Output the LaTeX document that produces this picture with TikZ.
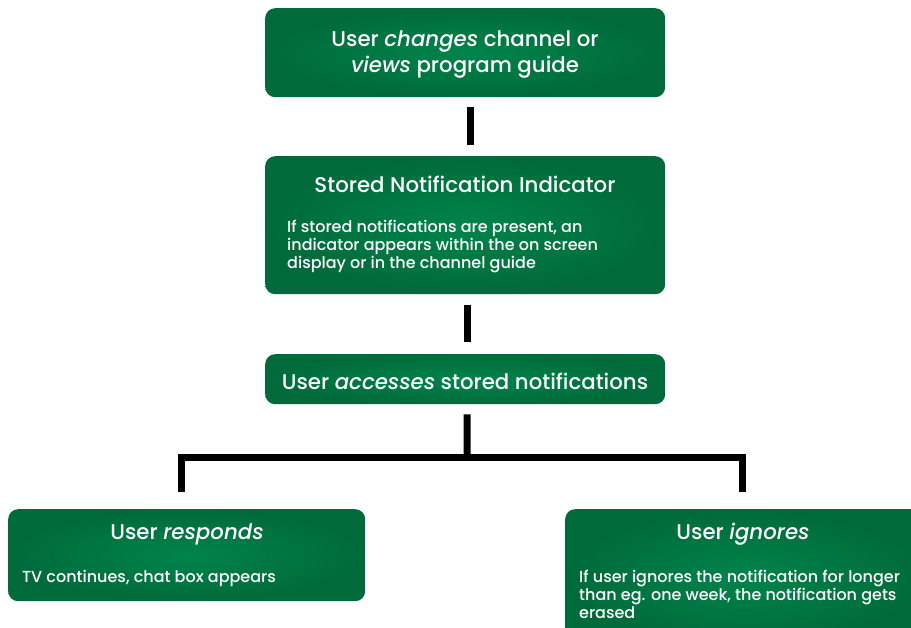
\documentclass[tikz,border=0pt]{standalone}
\usepackage{fontspec}
\setmainfont{Poppins}[UprightFont={* Medium}, ItalicFont={* Medium Italic}]
\usetikzlibrary{positioning}
\definecolor{gcenter}{RGB}{0,132,76}
\definecolor{gedge}{RGB}{0,106,58}
\tikzset{
  greenbox/.style={rounded corners=10pt, inner color=gcenter, outer color=gedge,
    draw=none, inner sep=0pt, anchor=north west},
  titletext/.style={text=white, font=\fontsize{21.3}{26}\selectfont, align=center, inner sep=0pt},
  bodytext/.style={text=white, font=\fontsize{16}{18}\selectfont, align=left, inner sep=0pt, anchor=north west},
  link/.style={line width=7pt, draw=black},
}
\begin{document}
\begin{tikzpicture}[x=1pt,y=-1pt]
\useasboundingbox (0,0) rectangle (911,628);
\clip (0,0) rectangle (911,628);

% boxes
\node[greenbox, minimum width=400pt, minimum height=89pt] (b1) at (265,8) {};
\node[greenbox, minimum width=400pt, minimum height=138pt] (b2) at (265,156) {};
\node[greenbox, minimum width=400pt, minimum height=50pt] (b3) at (265,354) {};
\node[greenbox, minimum width=357pt, minimum height=92pt] (b4) at (8,509) {};
\node[greenbox, minimum width=360pt, minimum height=135pt] (b5) at (565,509) {};

% texts
\node[titletext] (t1) at (465,55) {User \emph{changes} channel or\\\emph{views} program guide};
\node[titletext] (t2) at (465,184) {Stored Notification Indicator};
\node[bodytext] (d2) at (287,220) {If stored notifications are present, an\\indicator appears within the on screen\\display or in the channel guide};
\node[titletext] (t3) at (465,381) {User \emph{accesses} stored notifications};
\node[titletext] (t4) at (187,534) {User \emph{responds}};
\node[bodytext] (d4) at (22,570) {TV continues, chat box appears};
\node[titletext] (t5) at (743,534) {User \emph{ignores}};
\node[bodytext] (d5) at (579,570) {If user ignores the notification for longer\\than eg. one week, the notification gets\\erased};

% connectors
\draw[link, shorten <=10pt, shorten >=11pt] ([xshift=5pt]b1.south) -- ([xshift=5pt]b2.north);
\draw[link, shorten <=11pt, shorten >=12pt] ([xshift=2pt]b2.south) -- ([xshift=2pt]b3.north);
\coordinate (hub) at (467,457);
\coordinate (lend) at (181.5,492);
\coordinate (rend) at (742.5,492);
\draw[link, shorten <=10pt] ([xshift=2pt]b3.south) -- (hub);
\draw[link] (lend) -- (lend |- hub) -- (rend |- hub) -- (rend);
\end{tikzpicture}
\end{document}
